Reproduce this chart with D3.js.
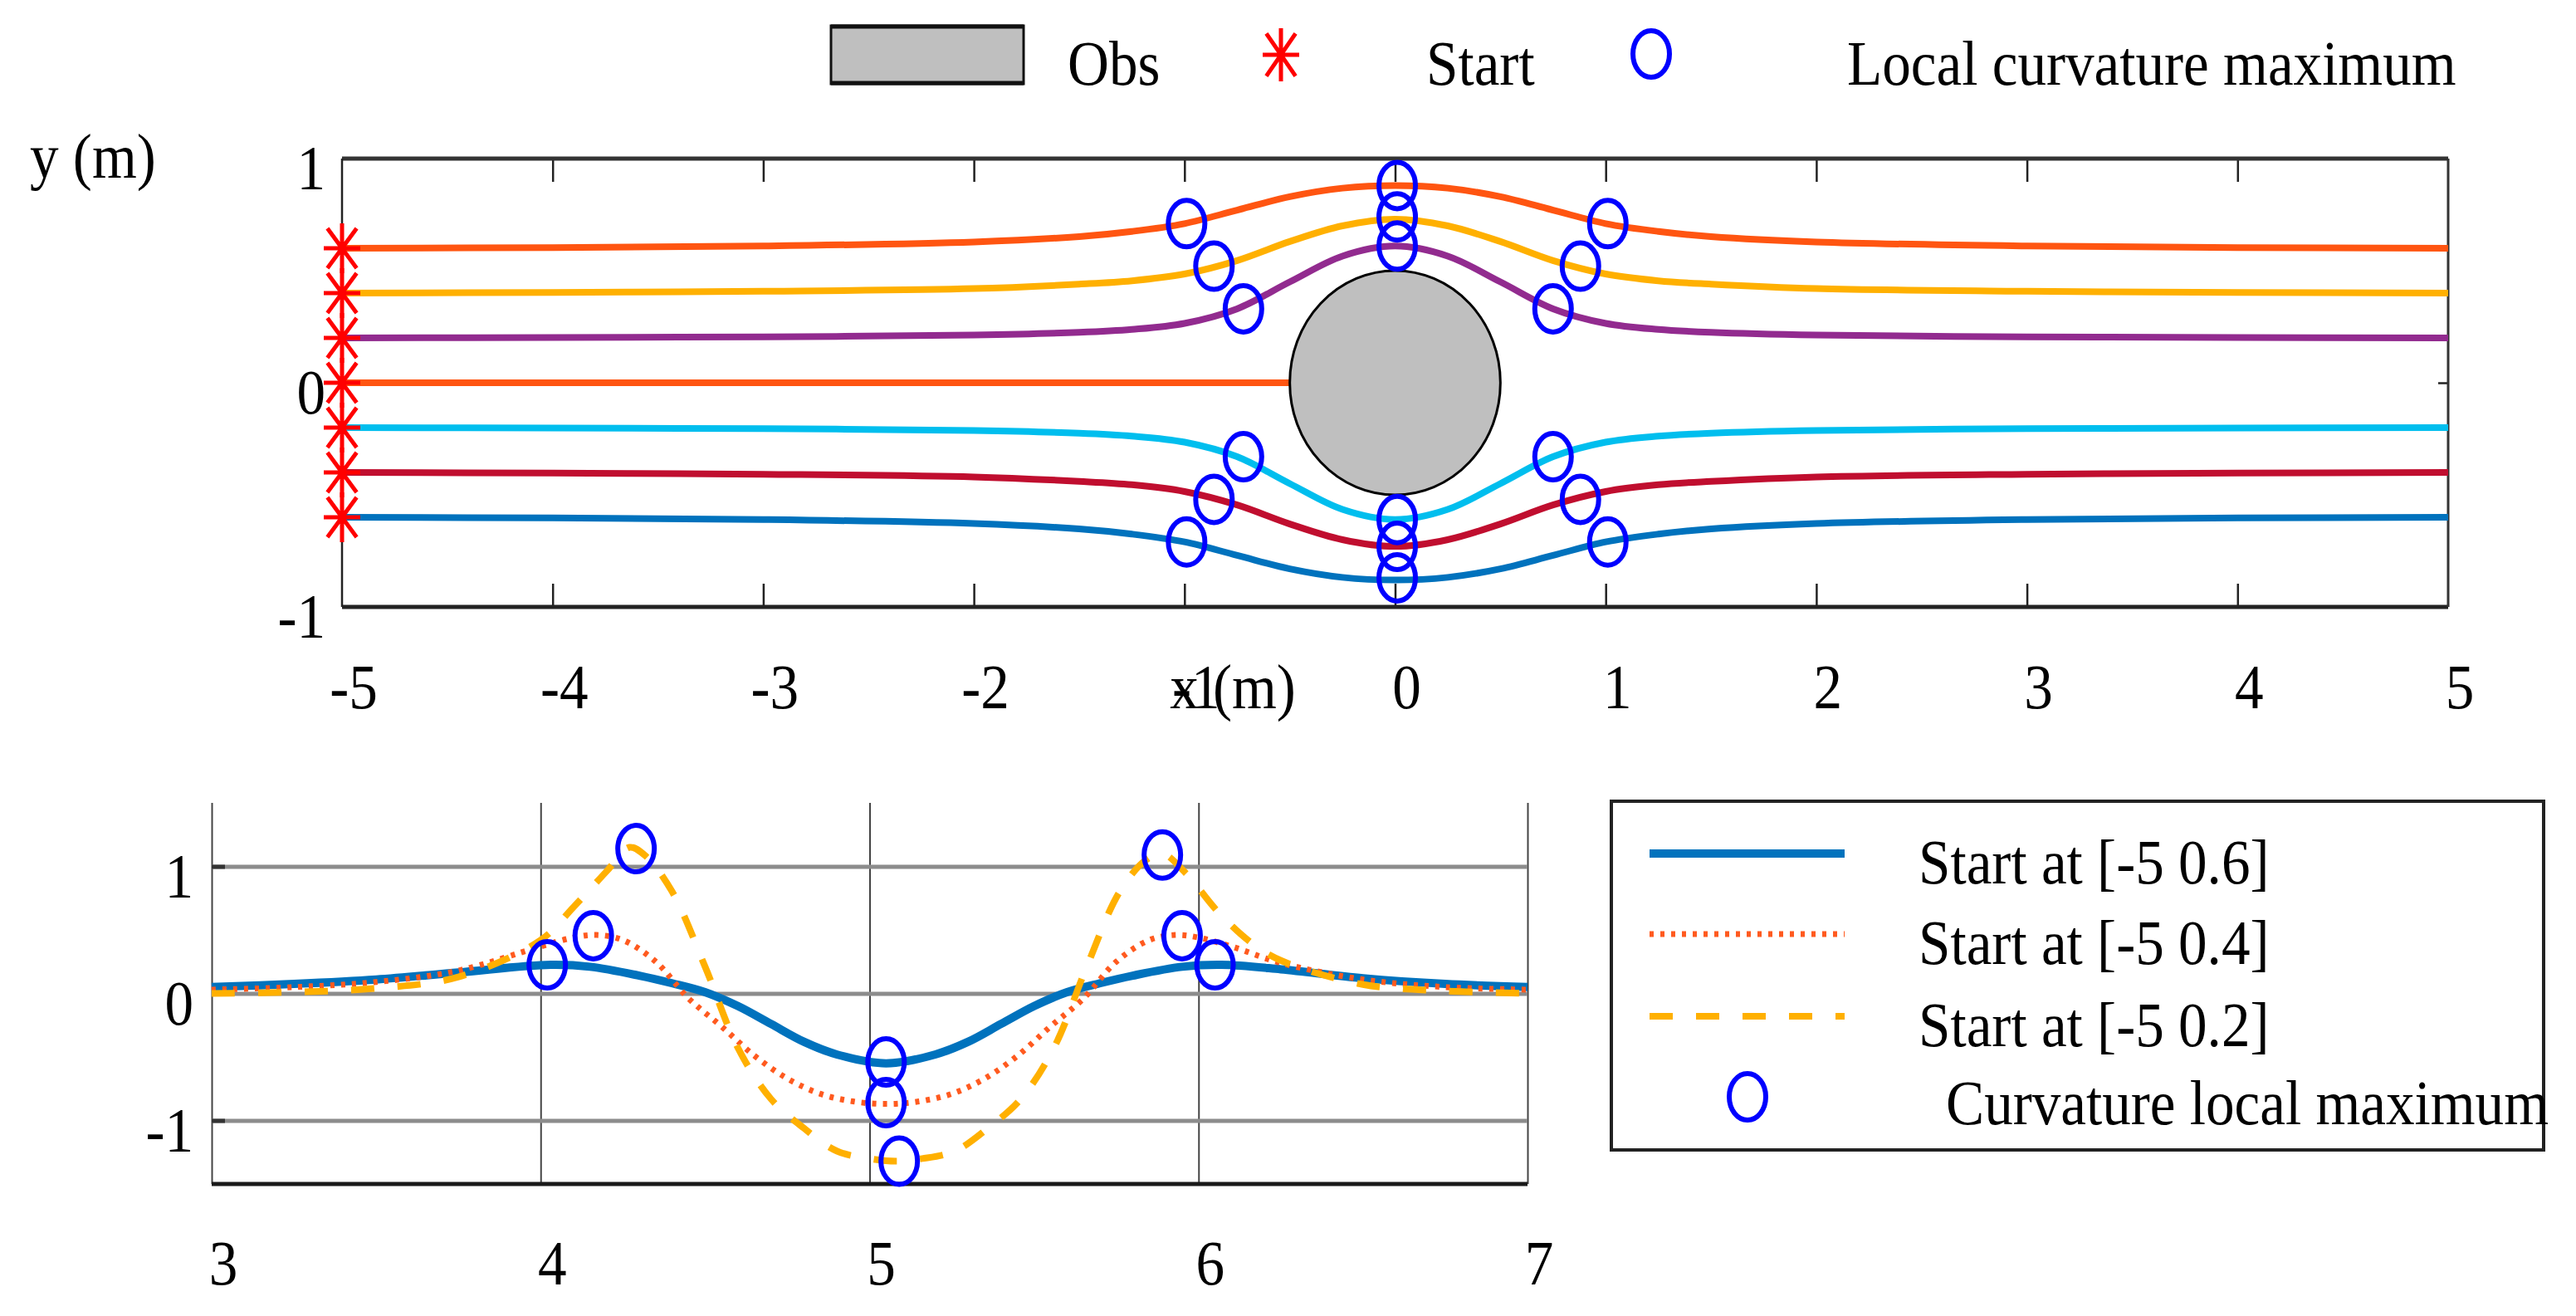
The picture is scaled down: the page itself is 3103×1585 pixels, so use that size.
<!DOCTYPE html>
<html>
<head>
<meta charset="utf-8">
<script src="https://cdn.jsdelivr.net/npm/d3@7"></script>
<style>
  body { margin: 0; background: #fff; }
  svg { display: block; }
  text { font-family: "Liberation Serif", "Times New Roman", serif; fill: #000; }
</style>
</head>
<body>
<script>
// ---- top panel: paths around the obstacle ----
const pathX = [-5, -4, -3, -2, -1.5, -1.25, -1, -0.75, -0.5, -0.25, 0, 0.25, 0.5, 0.75, 1, 1.25, 1.5, 2, 3, 4, 5]
const pathYp06 = [0.6, 0.603, 0.61, 0.628, 0.652, 0.675, 0.71, 0.77, 0.83, 0.868, 0.88, 0.868, 0.83, 0.77, 0.71, 0.675, 0.652, 0.628, 0.61, 0.603, 0.6]
const pathYp04 = [0.4, 0.403, 0.408, 0.42, 0.44, 0.455, 0.485, 0.545, 0.63, 0.70, 0.73, 0.70, 0.63, 0.545, 0.485, 0.455, 0.44, 0.42, 0.408, 0.403, 0.4]
const pathYp02 = [0.2, 0.202, 0.205, 0.213, 0.225, 0.238, 0.265, 0.33, 0.45, 0.565, 0.61, 0.565, 0.45, 0.33, 0.265, 0.238, 0.225, 0.213, 0.205, 0.202, 0.2]
const pathYm02 = [-0.2, -0.202, -0.205, -0.213, -0.225, -0.238, -0.265, -0.33, -0.45, -0.565, -0.61, -0.565, -0.45, -0.33, -0.265, -0.238, -0.225, -0.213, -0.205, -0.202, -0.2]
const pathYm04 = [-0.4, -0.403, -0.408, -0.42, -0.44, -0.455, -0.485, -0.545, -0.63, -0.70, -0.73, -0.70, -0.63, -0.545, -0.485, -0.455, -0.44, -0.42, -0.408, -0.403, -0.4]
const pathYm06 = [-0.6, -0.603, -0.61, -0.628, -0.652, -0.675, -0.71, -0.77, -0.83, -0.868, -0.88, -0.868, -0.83, -0.77, -0.71, -0.675, -0.652, -0.628, -0.61, -0.603, -0.6]
// the path starting on the axis stops at the obstacle
const pathX0 = [-5, -0.5]
const pathY00 = [0, 0]

const startX = [-5, -5, -5, -5, -5, -5, -5]
const startY = [0.6, 0.4, 0.2, 0, -0.2, -0.4, -0.6]

const kmaxX1 = [-0.99, -0.86, -0.72, 0.01, 0.01, 0.01, 0.75, 0.88, 1.01, -0.72, -0.86, -0.99, 0.01, 0.01, 0.01, 0.75, 0.88, 1.01]
const kmaxY1 = [0.71, 0.52, 0.33, 0.88, 0.74, 0.61, 0.33, 0.52, 0.71, -0.33, -0.52, -0.71, -0.61, -0.73, -0.87, -0.33, -0.52, -0.71]

const obstacle = { cx: 0, cy: 0, r: 0.5 }

const xTicks1 = [-5, -4, -3, -2, -1, 0, 1, 2, 3, 4, 5]
const yTicks1 = [-1, 0, 1]

// ---- bottom panel: curvature along the path ----
const curvX06 = [3, 3.25, 3.5, 3.75, 4.03, 4.15, 4.3, 4.4, 4.5, 4.6, 4.7, 4.8, 4.9, 5.05, 5.2, 5.3, 5.4, 5.5, 5.6, 5.7, 5.8, 5.95, 6.07, 6.25, 6.5, 6.75, 7]
const curv06 = [0.05, 0.075, 0.11, 0.165, 0.225, 0.21, 0.14, 0.08, 0.01, -0.10, -0.24, -0.38, -0.48, -0.55, -0.48, -0.38, -0.24, -0.10, 0.01, 0.08, 0.14, 0.21, 0.225, 0.19, 0.12, 0.075, 0.05]
const curvX04 = [3, 3.25, 3.5, 3.75, 4.0, 4.1, 4.17, 4.25, 4.35, 4.45, 4.55, 4.65, 4.75, 4.85, 4.95, 5.05, 5.15, 5.25, 5.35, 5.45, 5.55, 5.65, 5.75, 5.85, 5.93, 6.0, 6.1, 6.25, 6.5, 6.75, 7]
const curv04 = [0.03, 0.05, 0.09, 0.18, 0.37, 0.44, 0.46, 0.42, 0.25, -0.04, -0.26, -0.49, -0.67, -0.79, -0.85, -0.87, -0.85, -0.79, -0.67, -0.49, -0.26, -0.04, 0.25, 0.42, 0.46, 0.44, 0.37, 0.24, 0.11, 0.05, 0.03]
const curvX02 = [3, 3.25, 3.5, 3.75, 4.0, 4.1, 4.2, 4.27, 4.32, 4.4, 4.5, 4.6, 4.7, 4.8, 4.9, 5.0, 5.08, 5.16, 5.26, 5.36, 5.46, 5.56, 5.66, 5.76, 5.84, 5.89, 5.96, 6.06, 6.16, 6.25, 6.5, 6.75, 7]
const curv02 = [0.0, 0.01, 0.04, 0.13, 0.42, 0.68, 0.96, 1.15, 1.08, 0.80, 0.21, -0.43, -0.83, -1.06, -1.24, -1.30, -1.32, -1.30, -1.24, -1.06, -0.83, -0.43, 0.21, 0.80, 1.05, 1.10, 0.95, 0.64, 0.40, 0.26, 0.07, 0.02, 0.0]

const kmaxX2 = [4.02, 4.16, 4.29, 5.05, 5.05, 5.09, 5.89, 5.95, 6.05]
const kmaxY2 = [0.225, 0.455, 1.14, -0.54, -0.86, -1.32, 1.09, 0.455, 0.225]

const xTicks2 = [3, 4, 5, 6, 7]
const yTicks2 = [-1, 0, 1]

const legendLabels = ['Start at [-5 0.6]', 'Start at [-5 0.4]', 'Start at [-5 0.2]', 'Curvature local maximum']

// ---- drawing ----
const W = 3103, H = 1585
const FS = 76, SX = 0.91

const svg = d3.select('body').append('svg').attr('width', W).attr('height', H)

function label (x, y, str, anchor = 'start') {
  return svg.append('text')
    .attr('transform', `translate(${x},${y}) scale(${SX},1)`)
    .attr('text-anchor', anchor)
    .style('font-size', FS + 'px')
    .text(str)
}

function ring (g, cx, cy) {
  g.append('ellipse')
    .attr('cx', cx).attr('cy', cy).attr('rx', 22).attr('ry', 28)
    .attr('fill', 'none').attr('stroke', '#0000FF').attr('stroke-width', 6)
}

function star (g, cx, cy, hw, hh) {
  g.append('path')
    .attr('d', `M${cx},${cy - hh}V${cy + hh}M${cx - hw},${cy}H${cx + hw}` +
      `M${cx - hw * 0.8},${cy - hh * 0.8}L${cx + hw * 0.8},${cy + hh * 0.8}` +
      `M${cx - hw * 0.8},${cy + hh * 0.8}L${cx + hw * 0.8},${cy - hh * 0.8}`)
    .attr('fill', 'none').attr('stroke', '#FF0000').attr('stroke-width', 5)
}

// top panel
const x1 = d3.scaleLinear().domain([-5, 5]).range([412, 2949])
const y1 = d3.scaleLinear().domain([-1, 1]).range([731, 191])

const topG = svg.append('g')

topG.append('g').attr('transform', `translate(0,${y1(1)})`)
  .call(d3.axisBottom(x1).tickValues(xTicks1.slice(1, -1)).tickSize(28).tickFormat(''))
topG.append('g').attr('transform', `translate(0,${y1(-1)})`)
  .call(d3.axisTop(x1).tickValues(xTicks1.slice(1, -1)).tickSize(28).tickFormat(''))
topG.append('g').attr('transform', `translate(${x1(5)},0)`)
  .call(d3.axisLeft(y1).tickValues([0]).tickSize(12).tickFormat(''))
topG.selectAll('.domain').remove()
topG.selectAll('.tick line').attr('stroke', '#222').attr('stroke-width', 2.5)

topG.append('line').attr('x1', x1(-5)).attr('x2', x1(5)).attr('y1', y1(1)).attr('y2', y1(1)).attr('stroke', '#333').attr('stroke-width', 5)
topG.append('line').attr('x1', x1(-5)).attr('x2', x1(5)).attr('y1', y1(-1)).attr('y2', y1(-1)).attr('stroke', '#222').attr('stroke-width', 5)
topG.append('line').attr('x1', x1(-5)).attr('x2', x1(-5)).attr('y1', y1(1)).attr('y2', y1(-1)).attr('stroke', '#222').attr('stroke-width', 2.5)
topG.append('line').attr('x1', x1(5)).attr('x2', x1(5)).attr('y1', y1(1)).attr('y2', y1(-1)).attr('stroke', '#333').attr('stroke-width', 3)

xTicks1.forEach(v => label(x1(v) + 14, 853, String(v), 'middle'))
yTicks1.forEach(v => label(392, y1(v) + 37, String(v), 'end'))
// as in the original figure, the axis name sits on top of the "-1" tick label
label(1485, 853, 'x (m)', 'middle')
label(36, 214, 'y (m)')

const line1 = d3.line().x(d => x1(d[0])).y(d => y1(d[1])).curve(d3.curveCatmullRom.alpha(0.5))
const paths = [
  [pathX, pathYp06, '#FF5511'],
  [pathX, pathYp04, '#FFB000'],
  [pathX, pathYp02, '#922B8F'],
  [pathX0, pathY00, '#FF5511'],
  [pathX, pathYm02, '#00BEEE'],
  [pathX, pathYm04, '#C00E2F'],
  [pathX, pathYm06, '#0072BD']
]
paths.forEach(([xs, ys, c]) => {
  topG.append('path').datum(xs.map((x, i) => [x, ys[i]]))
    .attr('d', line1).attr('fill', 'none').attr('stroke', c).attr('stroke-width', 8)
})

topG.append('ellipse')
  .attr('cx', x1(obstacle.cx)).attr('cy', y1(obstacle.cy))
  .attr('rx', x1(obstacle.r) - x1(0)).attr('ry', y1(0) - y1(obstacle.r))
  .attr('fill', '#BFBFBF').attr('stroke', '#000').attr('stroke-width', 3)

kmaxX1.forEach((x, i) => ring(topG, x1(x), y1(kmaxY1[i])))
startX.forEach((x, i) => star(topG, x1(x), y1(startY[i]), 22, 30))

// top legend
svg.append('rect').attr('x', 1001).attr('y', 31).attr('width', 232).attr('height', 70)
  .attr('fill', '#BFBFBF').attr('stroke', '#111').attr('stroke-width', 3)
svg.append('line').attr('x1', 1001).attr('x2', 1233).attr('y1', 32).attr('y2', 32).attr('stroke', '#111').attr('stroke-width', 5)
svg.append('line').attr('x1', 1001).attr('x2', 1233).attr('y1', 100).attr('y2', 100).attr('stroke', '#111').attr('stroke-width', 5)
label(1286, 102, 'Obs')
star(svg, 1543, 66, 22, 32)
label(1718, 102, 'Start')
ring(svg, 1989, 65)
label(2225, 102, 'Local curvature maximum')

// bottom panel
const x2 = d3.scaleLinear().domain([3, 7]).range([255, 1840])
const y2 = d3.scaleLinear().domain([-1.5, 1.5]).range([1426, 967])
const botG = svg.append('g')

botG.append('g').attr('transform', `translate(0,${y2(-1.5)})`)
  .call(d3.axisTop(x2).tickValues(xTicks2).tickSize(y2(-1.5) - y2(1.5)).tickFormat(''))
  .call(g => g.select('.domain').remove())
  .call(g => g.selectAll('.tick line').attr('stroke', '#444').attr('stroke-width', 2))
botG.append('g').attr('transform', `translate(${x2(3)},0)`)
  .call(d3.axisRight(y2).tickValues(yTicks2).tickSize(x2(7) - x2(3)).tickFormat(''))
  .call(g => g.select('.domain').remove())
  .call(g => g.selectAll('.tick line').attr('stroke', '#8C8C8C').attr('stroke-width', 5))
botG.append('g').attr('transform', `translate(${x2(3)},0)`)
  .call(d3.axisRight(y2).tickValues(yTicks2).tickSize(16).tickFormat(''))
  .call(g => g.select('.domain').remove())
  .call(g => g.selectAll('.tick line').attr('stroke', '#333').attr('stroke-width', 5))
botG.append('line').attr('x1', x2(3)).attr('x2', x2(7)).attr('y1', y2(-1.5)).attr('y2', y2(-1.5))
  .attr('stroke', '#1a1a1a').attr('stroke-width', 5)

xTicks2.forEach(v => label(x2(v) + 14, 1547, String(v), 'middle'))
yTicks2.forEach(v => label(233, y2(v) + 37, String(v), 'end'))

const line2 = d3.line().x(d => x2(d[0])).y(d => y2(d[1])).curve(d3.curveCatmullRom.alpha(0.5))
const curvStyles = [
  { c: '#0072BD', w: 10, dash: null },
  { c: '#FF5A1F', w: 7, dash: '5,8' },
  { c: '#FFB000', w: 8, dash: '28,28' }
]
const curves = [[curvX06, curv06], [curvX04, curv04], [curvX02, curv02]]
curves.forEach(([xs, ys], k) => {
  const s = curvStyles[k]
  botG.append('path').datum(xs.map((x, i) => [x, ys[i]]))
    .attr('d', line2).attr('fill', 'none').attr('stroke', s.c).attr('stroke-width', s.w)
    .attr('stroke-dasharray', s.dash)
})
kmaxX2.forEach((x, i) => ring(botG, x2(x), y2(kmaxY2[i])))

// bottom legend
svg.append('rect').attr('x', 1941).attr('y', 965).attr('width', 1123).attr('height', 420)
  .attr('fill', 'none').attr('stroke', '#222').attr('stroke-width', 4)
const legRows = [1028, 1125, 1224]
curvStyles.forEach((s, k) => {
  svg.append('line').attr('x1', 1987).attr('x2', 2222).attr('y1', legRows[k]).attr('y2', legRows[k])
    .attr('stroke', s.c).attr('stroke-width', s.w).attr('stroke-dasharray', s.dash)
  label(2311, legRows[k] + 36, legendLabels[k])
})
ring(svg, 2105, 1321)
label(2344, 1354, legendLabels[3])
</script>
</body>
</html>
